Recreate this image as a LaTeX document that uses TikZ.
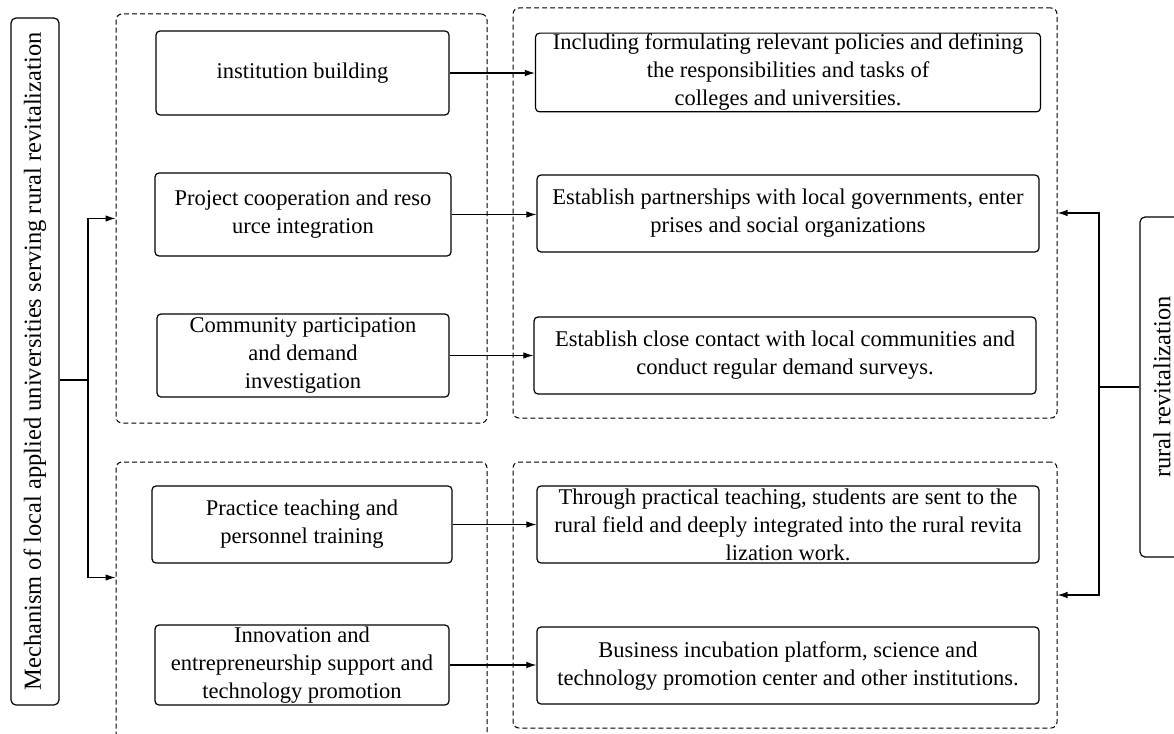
\documentclass[tikz,border=0pt]{standalone}
\usepackage{fontspec}
\setmainfont{Liberation Serif}
\usepackage{tikz}
\usetikzlibrary{
  positioning,
  arrows.meta
}
\tikzset{
  x=1pt, y=-1pt,
  >={Latex[length=10pt,width=6.5pt]},
  every node/.style={font=\fontsize{22.5}{28}\selectfont},
  item/.style={draw, line width=1.2pt, rounded corners=4pt, align=center, inner sep=1pt},
  side/.style={item, rotate=90, rounded corners=5pt, font=\fontsize{24.5}{28}\selectfont},
  group/.style={draw, line width=1pt, dash pattern=on 5pt off 3pt, rounded corners=6pt},
  link/.style={->, line width=1.1pt}
}

\begin{document}
\begin{tikzpicture}
    \useasboundingbox (0,0) rectangle (1174,733);
    \node[group, minimum width=371pt, minimum height=409pt] (g1) at (301.5,218.5) {};
    \node[group, minimum width=371pt, minimum height=283pt] (g2) at (301.5,603.5) {};
    \node[group, minimum width=544pt, minimum height=410pt] (g3) at (785,213) {};
    \node[group, minimum width=544pt, minimum height=266pt] (g4) at (785,595) {};
    \node[side, minimum width=687pt, minimum height=48pt] (main) at (35,361.5)
      {Mechanism of local applied universities serving rural revitalization};
    \node[side, minimum width=340pt, minimum height=44pt] (rural) at (1162,387)
      {rural revitalization};
    \node[item, minimum width=293pt, minimum height=84pt] (m1) at (302.5,73) {institution building};
    \node[item, minimum width=296pt, minimum height=83pt] (m2) at (303,214.5) {Project cooperation and reso\\urce integration};
    \node[item, minimum width=292pt, minimum height=83pt] (m3) at (303,355.5) {Community participation\\and demand\\investigation};
    \node[item, minimum width=300pt, minimum height=77pt] (m4) at (302,524.5) {Practice teaching and\\personnel training};
    \node[item, minimum width=294pt, minimum height=80pt] (m5) at (302,665) {Innovation and\\entrepreneurship support and\\technology promotion};
    \node[item, minimum width=505pt, minimum height=77pt] (r1) at (788,72.5) {Including formulating relevant policies and defining\\the responsibilities and tasks of\\colleges and universities.};
    \node[item, minimum width=502pt, minimum height=77pt] (r2) at (788,213.5) {Establish partnerships with local governments, enter\\prises and social organizations};
    \node[item, minimum width=502pt, minimum height=77pt] (r3) at (785,355.5) {Establish close contact with local communities and\\conduct regular demand surveys.};
    \node[item, minimum width=502pt, minimum height=77pt] (r4) at (788,524.5) {Through practical teaching, students are sent to the\\rural field and deeply integrated into the rural revita\\lization work.};
    \node[item, minimum width=502pt, minimum height=77pt] (r5) at (788,665.5) {Business incubation platform, science and\\technology promotion center and other institutions.};
    \coordinate (lj) at (88,380);
    \coordinate (rj) at (1099,387);
    \draw[line width=1.1pt] (main.south |- lj) -- (lj);
    \draw[link] (lj) |- (g1.west);
    \draw[link] (lj) |- ([yshift=-116pt]g2.north west);
    \draw[line width=1.1pt] (rural.north |- rj) -- (rj);
    \draw[link] (rj) |- (g3.east);
    \draw[link] (rj) |- (g4.east);
    \foreach \i in {1,...,5}
      \draw[link] (m\i.east) -- (m\i.east -| r\i.west);
\end{tikzpicture}
\end{document}
